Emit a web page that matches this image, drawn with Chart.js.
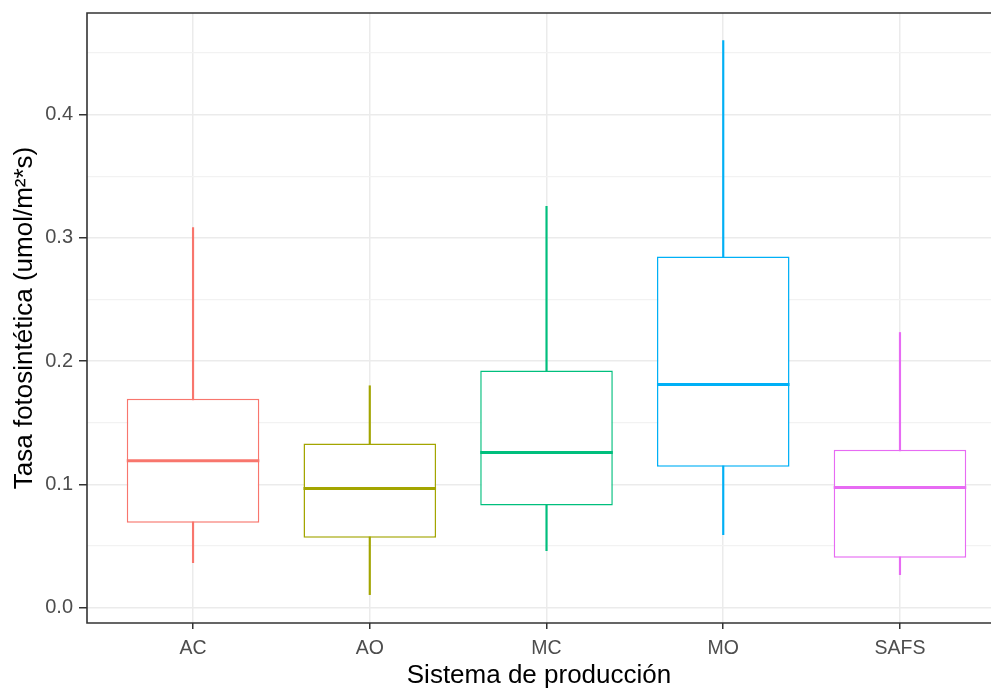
<!DOCTYPE html>
<html>
<head>
<meta charset="utf-8">
<script src="https://cdn.jsdelivr.net/npm/chart.js@4/dist/chart.umd.min.js"></script>
<style>
html,body{margin:0;padding:0;background:#fff;}
#wrap{width:991px;height:689px;position:relative;}
</style>
</head>
<body>
<div id="wrap"><canvas id="c" width="991" height="689"></canvas></div>
<script>
const categories = ["AC", "AO", "MC", "MO", "SAFS"];
const whiskerLow = [0.0365, 0.0106, 0.0463, 0.0593, 0.0268];
const q1 = [0.0689, 0.0568, 0.0828, 0.1144, 0.0406];
const medians = [0.1192, 0.0966, 0.1258, 0.1810, 0.0974];
const q3 = [0.1695, 0.1331, 0.1924, 0.2849, 0.1282];
const whiskerHigh = [0.3082, 0.1800, 0.3255, 0.4600, 0.2232];
const yTicks = [0, 0.05, 0.1, 0.15, 0.2, 0.25, 0.3, 0.35, 0.4, 0.45];
const colors = ["#F8766D", "#A3A500", "#00BF7D", "#00B0F6", "#E76BF3"];

const FONT = "'Liberation Sans', Arial, sans-serif";
const isMajor = v => Math.abs(Math.round(v * 10) - v * 10) < 1e-6;

const borderPlugin = {
  id: 'panelBorder',
  afterDraw(chart) {
    const a = chart.chartArea, ctx = chart.ctx;
    ctx.save();
    ctx.strokeStyle = '#333333';
    ctx.lineWidth = 1.6;
    ctx.beginPath();
    ctx.moveTo(a.right + 5, a.top);
    ctx.lineTo(a.left, a.top);
    ctx.lineTo(a.left, a.bottom);
    ctx.lineTo(a.right + 5, a.bottom);
    ctx.stroke();
    ctx.restore();
  }
};

new Chart(document.getElementById('c'), {
  type: 'bar',
  data: {
    datasets: [
      {
        type: 'line',
        label: 'median',
        data: categories.map((c, i) => ({x: i + 1, y: medians[i]})),
        showLine: false,
        pointStyle: 'line',
        pointRadius: ctx => { const s = ctx.chart.scales.x; return s.getPixelForValue(1.375) - s.getPixelForValue(1); },
        pointBorderWidth: 3,
        pointBorderColor: colors,
        pointBackgroundColor: colors,
        order: 0
      },
      {
        label: 'box',
        data: categories.map((c, i) => ({x: i + 1, y: [q1[i], q3[i]]})),
        backgroundColor: '#ffffff',
        borderColor: colors,
        borderWidth: 1.5,
        borderSkipped: false,
        barPercentage: 0.75,
        categoryPercentage: 1,
        grouped: false,
        order: 1
      },
      {
        label: 'whisker',
        data: categories.map((c, i) => ({x: i + 1, y: [whiskerLow[i], whiskerHigh[i]]})),
        backgroundColor: colors,
        borderWidth: 0,
        barThickness: 1.5,
        grouped: false,
        order: 2
      }
    ]
  },
  options: {
    responsive: false,
    animation: false,
    events: [],
    layout: {padding: {top: 13, right: 0, left: 0, bottom: 0}},
    plugins: {legend: {display: false}, tooltip: {enabled: false}},
    scales: {
      x: {
        type: 'linear',
        min: 0.4,
        max: 5.515,
        offset: false,
        afterBuildTicks: s => { s.ticks = categories.map((c, i) => ({value: i + 1})); },
        afterFit: s => { s.height = 66; s.paddingLeft = 0; s.paddingRight = 0; },
        ticks: {
          callback: v => categories[Math.round(v) - 1] || '',
          color: '#4D4D4D',
          font: {family: FONT, size: 19.5},
          padding: 8,
          maxRotation: 0,
          autoSkip: false
        },
        grid: {
          offset: false,
          color: '#EBEBEB',
          lineWidth: 1.5,
          tickColor: '#333333',
          tickLength: 6,
          tickWidth: 1.5
        },
        border: {display: false},
        title: {
          display: true,
          text: 'Sistema de producción',
          color: '#000000',
          font: {family: FONT, size: 26, lineHeight: 1.0},
          padding: {top: 0, bottom: 0}
        }
      },
      y: {
        type: 'linear',
        min: -0.0124,
        max: 0.4823,
        afterBuildTicks: s => { s.ticks = yTicks.map(v => ({value: v})); },
        afterFit: s => { s.width = 87; s.paddingTop = 0; s.paddingBottom = 0; },
        ticks: {
          callback: v => isMajor(v) ? v.toFixed(1) : '',
          color: '#4D4D4D',
          font: {family: FONT, size: 20},
          padding: 6,
          autoSkip: false
        },
        grid: {
          color: ctx => ctx.tick && isMajor(ctx.tick.value) ? '#EBEBEB' : '#F2F2F2',
          lineWidth: ctx => ctx.tick && isMajor(ctx.tick.value) ? 1.5 : 1.2,
          tickColor: ctx => ctx.tick && isMajor(ctx.tick.value) ? '#333333' : 'rgba(0,0,0,0)',
          tickLength: 8,
          tickWidth: 1.5
        },
        border: {display: false},
        title: {
          display: true,
          text: 'Tasa fotosintética (umol/m²*s)',
          color: '#000000',
          font: {family: FONT, size: 26},
          padding: {top: 9, bottom: 0}
        }
      }
    }
  },
  plugins: [borderPlugin]
});
</script>
</body>
</html>
